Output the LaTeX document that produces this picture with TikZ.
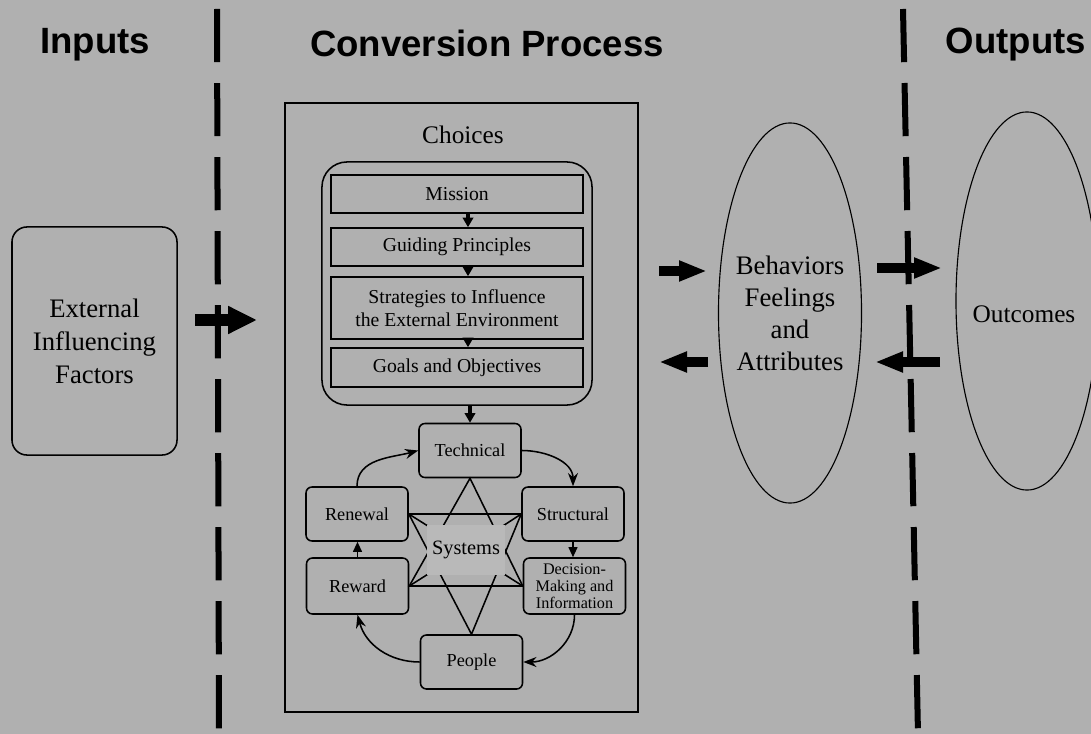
\documentclass[tikz,border=0pt]{standalone}
\usepackage{fontspec}
\setmainfont{Liberation Serif}
\newfontfamily\headfont{Liberation Sans}
\usepackage{tikz}
\usetikzlibrary{arrows.meta,positioning,shapes.geometric}
\definecolor{pagegray}{RGB}{176,176,176}

\begin{document}
\begin{tikzpicture}[x=0.025cm,y=0.025cm,
 head/.style={font=\headfont\bfseries\fontsize{26}{30}\selectfont},
 divider/.style={line width=0.15cm,dash pattern=on 1.33cm off 0.52cm},
 extbox/.style={draw,rounded corners=0.375cm,line width=1.1pt,%
   minimum width=4.125cm,minimum height=5.7cm,align=center,%
   font=\fontsize{19}{23.5}\selectfont},
 card/.style={draw,line width=1.1pt,minimum width=6.3cm,align=center,%
   font=\fontsize{14}{16.8}\selectfont},
 sysbox/.style={draw,rounded corners=0.15cm,line width=1.1pt,%
   minimum width=2.55cm,minimum height=1.35cm,align=center,%
   font=\fontsize{13}{15}\selectfont},
 oval/.style={draw,ellipse,line width=0.8pt,inner sep=0pt},
 ovaltext/.style={align=center,font=\fontsize{19}{22.8}\selectfont},
 bigarr/.style={line width=0.3cm,-{Triangle[length=0.72cm,width=0.65cm]}},
 midarr/.style={line width=0.25cm,-{Triangle[length=0.7cm,width=0.48cm]}},
 smarr/.style={line width=2.2pt,-{Triangle[length=0.24cm,width=0.26cm]}},
 tinyarr/.style={line width=1.1pt,-{Triangle[length=0.25cm,width=0.22cm]}},
 cyc/.style={line width=1.1pt,-{Stealth[length=0.33cm,width=0.25cm]}},
 star/.style={line width=1.1pt}]
\useasboundingbox (0,0) rectangle (1091,-734);
\fill[pagegray] (0,0) rectangle (1091,-734);
% headings and dividers
\node[head] (inputs) at (95,-45) {Inputs};
\node[head] (convhead) at (487,-43) {Conversion Process};
\node[head] (outputs) at (1016,-45) {Outputs};
\draw[divider] (217,-9) -- (219,-734);
\draw[divider] (903,-9) -- (918,-734);
% inputs
\node[extbox] (factors) at (94.5,-341) {External\\Influencing\\Factors};
\coordinate (inA) at (195,-320);
\coordinate (inB) at (257,-320);
\draw[bigarr] (inA) -- (inB);
% conversion process
\node[draw,line width=1.8pt,inner sep=0pt,minimum width=8.825cm,%
  minimum height=15.225cm] (process) at (461.5,-407.5) {};
\node[font=\fontsize{18}{20}\selectfont] (choices) at (463,-135) {Choices};
\node[draw,rounded corners=0.625cm,line width=1.1pt,minimum width=6.75cm,%
  minimum height=6.075cm] (choicebox) at (457,-283.5) {};
\node[card,minimum height=0.95cm] (mission) at (457,-194) {Mission};
\node[card,minimum height=0.95cm] (guiding) at (457,-247) {Guiding Principles};
\node[card,minimum height=1.55cm] (strategies) at (457,-308) {Strategies to Influence\\the External Environment};
\node[card,minimum height=0.975cm] (goals) at (457,-367.5) {Goals and Objectives};
\foreach \a/\b in {mission/guiding,guiding/strategies,strategies/goals}
  \draw[smarr] ([xshift=0.275cm,yshift=0.05cm]\a.south) -- ([xshift=0.275cm]\b.north);
% systems
\node[sysbox] (technical) at (470,-450.5) {Technical};
\node[sysbox] (structural) at (573,-514) {Structural};
\node[sysbox,minimum height=1.4cm,inner sep=1pt,%
  font=\fontsize{11.5}{12}\selectfont] (decision) at (574.5,-586) {Decision-\\Making and\\Information};
\node[sysbox] (people) at (471.5,-662) {People};
\node[sysbox,minimum height=1.4cm] (reward) at (357.5,-586) {Reward};
\node[sysbox] (renewal) at (357,-514) {Renewal};
\draw[smarr] (choicebox.south -| technical.north) -- (technical.north);
\coordinate (hub) at (466,-550);
\draw[star] (renewal.east) -- (structural.west) -- (people.north) -- cycle;
\draw[star] (technical.south) -- (decision.west) -- (reward.east) -- cycle;
\foreach \p in {renewal.east,structural.west,decision.west,reward.east}
  \draw[star] (hub) -- (\p);
\node[fill=pagegray!88!white,minimum width=1.925cm,minimum height=1.25cm,%
  font=\fontsize{14.5}{16}\selectfont] (systems) at (hub) {Systems};
\draw[cyc] (renewal.north) to[out=90,in=195] (technical.west);
\draw[cyc] (technical.east) to[out=0,in=90] (structural.north);
\draw[tinyarr] (structural.south) -- (structural.south |- decision.north);
\draw[cyc] (decision.south) to[out=-90,in=0] (people.east);
\draw[cyc] (people.west) to[out=180,in=-75] (reward.south);
\draw[tinyarr] (reward.north) -- (reward.north |- renewal.south);
% behaviors and outcomes
\node[oval,minimum width=3.575cm,minimum height=9.5cm] (behaviors) at (790,-313) {};
\node[ovaltext] (behavtext) at (behaviors.center) {Behaviors\\Feelings\\and\\Attributes};
\node[oval,minimum width=3.55cm,minimum height=9.45cm] (outcomes) at (1027,-301) {};
\node[ovaltext,font=\fontsize{18}{20}\selectfont] (outtext) at (1024,-314) {Outcomes};
\coordinate (bA) at (659,-271);
\coordinate (bB) at (707,-271);
\coordinate (bC) at (708,-362);
\coordinate (bD) at (659,-362);
\coordinate (oA) at (877,-268);
\coordinate (oB) at (942,-268);
\coordinate (oC) at (940,-362);
\coordinate (oD) at (875,-362);
\draw[midarr] (bA) -- (bB);
\draw[midarr] (bC) -- (bD);
\draw[midarr] (oA) -- (oB);
\draw[midarr] (oC) -- (oD);
\end{tikzpicture}
\end{document}
